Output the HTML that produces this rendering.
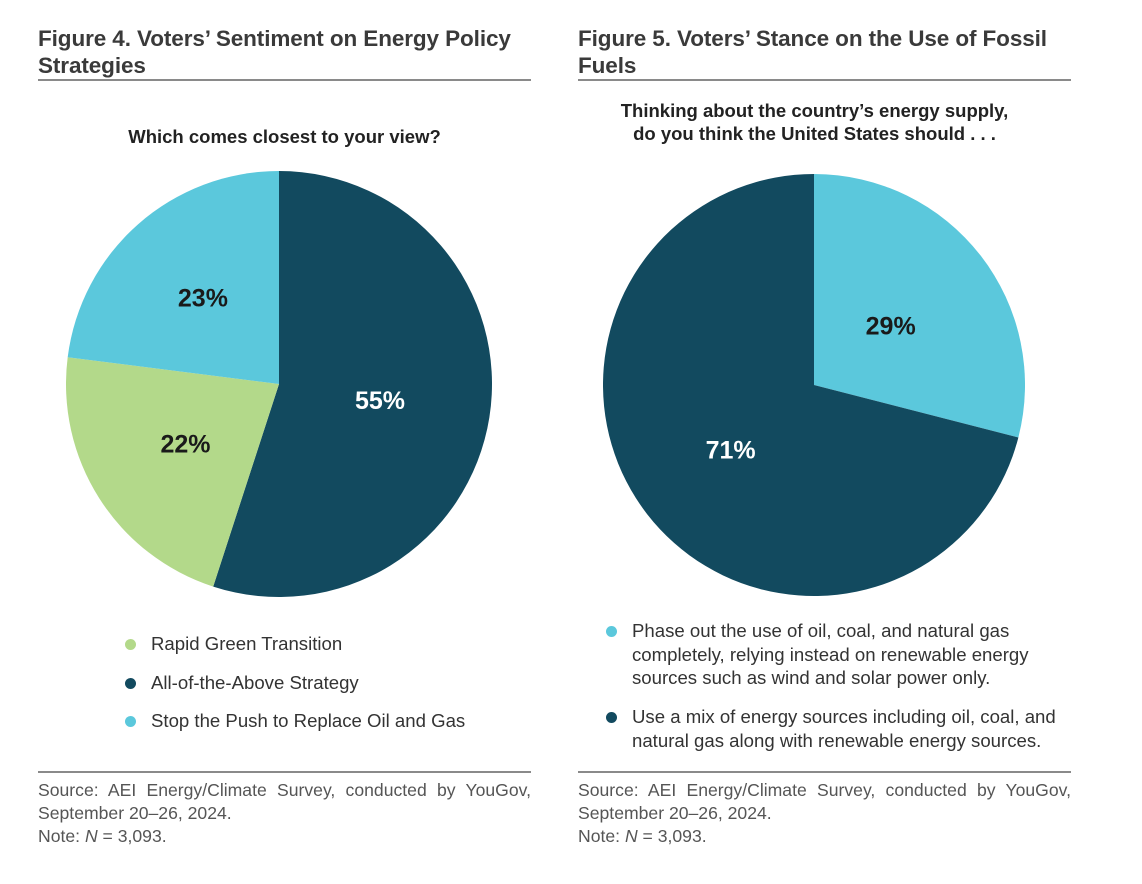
<!DOCTYPE html>
<html><head><meta charset="utf-8"><style>
body{margin:0;width:1142px;height:884px;background:#fff;font-family:"Liberation Sans",sans-serif;position:relative;overflow:hidden}
.a{position:absolute}
.t{font-weight:bold;font-size:22.5px;color:#3a3a3a;line-height:27px;letter-spacing:-0.1px}
.rule{height:2px;background:#8a8a8a}
.q{font-weight:bold;font-size:18.5px;color:#222;text-align:center;line-height:23px}
.lg{font-size:18.6px;color:#333;line-height:23.5px}
.dot{width:11px;height:11px;border-radius:50%}
.src{font-size:17.6px;color:#555;line-height:23px;text-align:justify;text-align-last:left}
</style></head><body>
<div class="a t" style="left:38px;top:25px;width:500px">Figure 4. Voters’ Sentiment on Energy Policy Strategies</div>
<div class="a rule" style="left:38px;top:79px;width:493px"></div>
<div class="a q" style="left:38px;top:125px;width:493px">Which comes closest to your view?</div>
<div class="a t" style="left:578px;top:25px;width:500px">Figure 5. Voters’ Stance on the Use of Fossil Fuels</div>
<div class="a rule" style="left:578px;top:79px;width:493px"></div>
<div class="a q" style="left:568px;top:99px;width:493px">Thinking about the country’s energy supply,<br>do you think the United States should . . .</div>
<svg class="a" style="left:0;top:0" width="1142" height="884" id="svg"></svg>

<div class="a dot" style="left:125px;top:639px;background:#b3d98a"></div>
<div class="a lg" style="left:151px;top:632px">Rapid Green Transition</div>
<div class="a dot" style="left:125px;top:678px;background:#124a5f"></div>
<div class="a lg" style="left:151px;top:671px">All-of-the-Above Strategy</div>
<div class="a dot" style="left:125px;top:716px;background:#5bc8dc"></div>
<div class="a lg" style="left:151px;top:709px">Stop the Push to Replace Oil and Gas</div>

<div class="a dot" style="left:606px;top:626px;background:#5bc8dc"></div>
<div class="a lg" style="left:632px;top:619px;width:460px">Phase out the use of oil, coal, and natural gas<br>completely, relying instead on renewable energy<br>sources such as wind and solar power only.</div>
<div class="a dot" style="left:606px;top:712px;background:#124a5f"></div>
<div class="a lg" style="left:632px;top:705px;width:460px">Use a mix of energy sources including oil, coal, and<br>natural gas along with renewable energy sources.</div>

<div class="a rule" style="left:38px;top:771px;width:493px;height:1.5px"></div>
<div class="a src" style="left:38px;top:779px;width:493px">Source: AEI Energy/Climate Survey, conducted by YouGov, September 20–26, 2024.<br>Note: <i>N</i> = 3,093.</div>
<div class="a rule" style="left:578px;top:771px;width:493px;height:1.5px"></div>
<div class="a src" style="left:578px;top:779px;width:493px">Source: AEI Energy/Climate Survey, conducted by YouGov, September 20–26, 2024.<br>Note: <i>N</i> = 3,093.</div>

<script>
const pie1Categories=["All-of-the-Above Strategy","Rapid Green Transition","Stop the Push to Replace Oil and Gas"];
const pie1Values=[55,22,23];
const pie2Categories=["Phase out fossil fuels","Use a mix of energy sources"];
const pie2Values=[29,71];
const svg=document.getElementById('svg');
const NS='http://www.w3.org/2000/svg';
function drawPie(cx,cy,r,cats,vals,colors,textColors,labelR,prefix){
  const total=vals.reduce((a,b)=>a+b,0);
  let acc=0;
  vals.forEach((v,i)=>{
    const a0=acc/total*2*Math.PI; acc+=v; const a1=acc/total*2*Math.PI;
    const x0=cx+r*Math.sin(a0),y0=cy-r*Math.cos(a0),x1=cx+r*Math.sin(a1),y1=cy-r*Math.cos(a1);
    const p=document.createElementNS(NS,'path');
    p.setAttribute('d',`M${cx},${cy}L${x0},${y0}A${r},${r} 0 ${a1-a0>Math.PI?1:0} 1 ${x1},${y1}Z`);
    p.setAttribute('fill',colors[i]);
    
    
    svg.appendChild(p);
    const am=(a0+a1)/2;
    const t=document.createElementNS(NS,'text');
    t.setAttribute('x',cx+r*labelR[i]*Math.sin(am));
    t.setAttribute('y',cy-r*labelR[i]*Math.cos(am)+9);
    t.setAttribute('text-anchor','middle');
    t.setAttribute('font-family','Liberation Sans, sans-serif');
    t.setAttribute('font-weight','bold');
    t.setAttribute('font-size','25');
    t.setAttribute('fill',textColors[i]);
    t.textContent=v+'%';
    
    
    svg.appendChild(t);
  });
}
drawPie(279,384,213,pie1Categories,pie1Values,['#124a5f','#b3d98a','#5bc8dc'],['#fff','#1a1a1a','#1a1a1a'],[0.48,0.52,0.54],'pie-1');
drawPie(814,385,211,pie2Categories,pie2Values,['#5bc8dc','#124a5f'],['#1a1a1a','#fff'],[0.46,0.5],'pie-2');
</script>
</body></html>
